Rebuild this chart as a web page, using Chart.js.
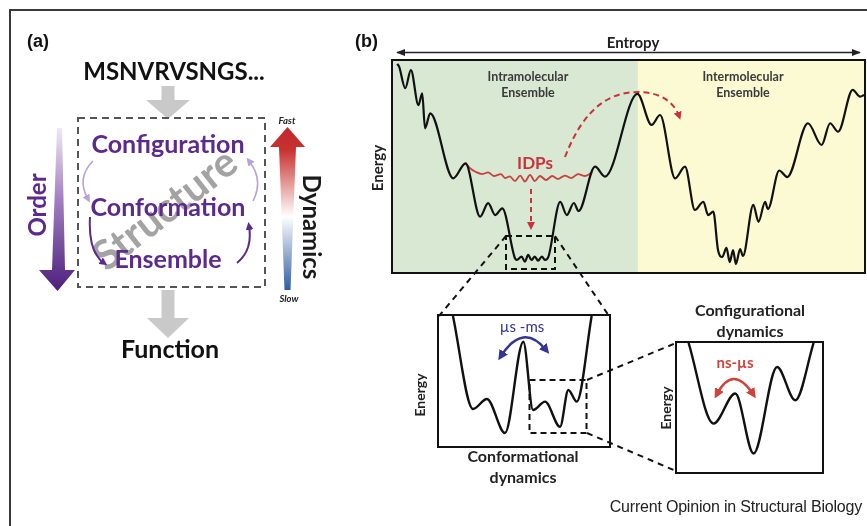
<!DOCTYPE html>
<html lang="en">
<head>
    <meta charset="UTF-8">
    <title>IDP energy landscape</title>
    <script src="https://cdn.jsdelivr.net/npm/chart.js"></script>
    <style>
        body { margin: 0; background: #fff; font-family: Lato, "Open Sans", sans-serif; }
        #page { position: relative; width: 867px; height: 526px; overflow: hidden; background: #fff; }
        #frame { position: absolute; left: 9px; top: 9px; width: 900px; height: 600px;
                 border-top: 2px solid #3a3a3a; border-left: 2px solid #3a3a3a; }
        .box { position: absolute; border: 2px solid #111; }
        .box canvas { display: block; }
        #overlay { position: absolute; left: 0; top: 0; pointer-events: none; }
        #credit { position: absolute; right: 5px; top: 498px; font-family: "Liberation Sans", Arial, sans-serif;
                  font-size: 16px; color: #222; letter-spacing: -0.2px; }
    </style>
</head>
<body>
<div id="page">
    <div id="frame"></div>

    <!-- main landscape -->
    <div class="box" style="left:391px; top:59px;">
        <canvas id="landscapeChart" width="471" height="211"></canvas>
    </div>
    <!-- conformational zoom -->
    <div class="box" style="left:437px; top:314px;">
        <canvas id="conformChart" width="170" height="130"></canvas>
    </div>
    <!-- configurational zoom -->
    <div class="box" style="left:675px; top:341px;">
        <canvas id="configChart" width="145" height="129"></canvas>
    </div>

    <svg id="overlay" width="867" height="526" font-family="Lato, 'Open Sans', sans-serif">
        <defs>
            <linearGradient id="orderGrad" x1="0" y1="0" x2="0" y2="1">
                <stop offset="0" stop-color="#efe8f5"/>
                <stop offset="0.45" stop-color="#a07cc0"/>
                <stop offset="1" stop-color="#4e1f7c"/>
            </linearGradient>
            <linearGradient id="dynGrad" x1="0" y1="0" x2="0" y2="1">
                <stop offset="0" stop-color="#c1272d"/>
                <stop offset="0.14" stop-color="#c8322f"/>
                <stop offset="0.55" stop-color="#ffffff"/>
                <stop offset="1" stop-color="#2f5ba6"/>
            </linearGradient>
            <marker id="headRed" viewBox="0 0 10 10" refX="5" refY="5" markerWidth="4" markerHeight="4" orient="auto-start-reverse">
                <path d="M0,0 L10,5 L0,10 z" fill="#c9313b"/>
            </marker>
            <marker id="headBlue" viewBox="0 0 10 10" refX="5" refY="5" markerWidth="4" markerHeight="4" orient="auto-start-reverse">
                <path d="M0,0 L10,5 L0,10 z" fill="#33339a"/>
            </marker>
            <marker id="headRed2" viewBox="0 0 10 10" refX="5" refY="5" markerWidth="4" markerHeight="4" orient="auto-start-reverse">
                <path d="M0,0 L10,5 L0,10 z" fill="#d0433a"/>
            </marker>
            <marker id="headBlack" viewBox="0 0 10 10" refX="9" refY="5" markerWidth="7" markerHeight="7" orient="auto-start-reverse">
                <path d="M0,1 L10,5 L0,9 z" fill="#222"/>
            </marker>
            <marker id="headLight" viewBox="0 0 10 10" refX="5" refY="5" markerWidth="5" markerHeight="5" orient="auto">
                <path d="M0,0 L10,5 L0,10 z" fill="#b9a3d6"/>
            </marker>
            <marker id="headPurple" viewBox="0 0 10 10" refX="5" refY="5" markerWidth="4" markerHeight="4" orient="auto">
                <path d="M0,0 L10,5 L0,10 z" fill="#5b2a8c"/>
            </marker>
        </defs>

        <!-- ===== panel (a) ===== -->
        <text x="27" y="47" font-family="'Liberation Sans', Arial" font-weight="700" font-size="18" fill="#111">(a)</text>
        <text x="174" y="80" text-anchor="middle" font-weight="700" font-size="24" fill="#111">MSNVRVSNGS...</text>
        <polygon points="161.5,86 174.5,86 174.5,100 190,100 168,119 146,100 161.5,100" fill="#c9c9c9"/>
        <polygon points="161.5,290 174.5,290 174.5,318 189,318 168,338 147,318 161.5,318" fill="#c9c9c9"/>
        <text x="170" y="358" text-anchor="middle" font-weight="700" font-size="25" fill="#111">Function</text>

        <rect x="78" y="118" width="187" height="169" fill="none" stroke="#555" stroke-width="2" stroke-dasharray="7,5"/>

        <text transform="translate(164,208) rotate(-38)" text-anchor="middle" dominant-baseline="central"
              font-weight="700" font-size="41" fill="#8c8c8c" fill-opacity="0.8">Structure</text>

        <text x="168" y="153" text-anchor="middle" font-weight="700" font-size="25" fill="#5b2a8c">Configuration</text>
        <text x="168" y="216" text-anchor="middle" font-weight="700" font-size="25" fill="#5b2a8c">Conformation</text>
        <text x="168" y="268" text-anchor="middle" font-weight="700" font-size="25" fill="#5b2a8c">Ensemble</text>

        <path d="M93,161 Q76,178 88,199" fill="none" stroke="#b9a3d6" stroke-width="1.6" marker-end="url(#headLight)"/>
        <path d="M253,201 Q264,180 249,161" fill="none" stroke="#b9a3d6" stroke-width="1.6" marker-end="url(#headLight)"/>
        <path d="M90,217 Q88,252 104,263" fill="none" stroke="#5b2a8c" stroke-width="2" marker-end="url(#headPurple)"/>
        <path d="M237,263 Q253,250 249,226" fill="none" stroke="#5b2a8c" stroke-width="2" marker-end="url(#headPurple)"/>

        <polygon points="57,128 62,128 65,270 75,270 57.5,291 39,270 52,270" fill="url(#orderGrad)"/>
        <text transform="translate(36,205) rotate(-90)" text-anchor="middle" dominant-baseline="central"
              font-weight="700" font-size="24" fill="#5b2a8c">Order</text>

        <polygon points="287.5,127 305,147 296,147 290.5,290 284.5,290 279,147 270,147" fill="url(#dynGrad)"/>
        <text x="287" y="124" text-anchor="middle" font-style="italic" font-weight="700" font-size="9.5" fill="#222">Fast</text>
        <text x="289" y="302" text-anchor="middle" font-style="italic" font-weight="700" font-size="9.5" fill="#222">Slow</text>
        <text transform="translate(312,227) rotate(90)" text-anchor="middle" dominant-baseline="central"
              font-weight="700" font-size="24" fill="#1a1a1a">Dynamics</text>

        <!-- ===== panel (b) ===== -->
        <text x="355" y="47" font-family="'Liberation Sans', Arial" font-weight="700" font-size="18" fill="#111">(b)</text>
        <line x1="397" y1="52.5" x2="860" y2="52.5" stroke="#222" stroke-width="1.3"
              marker-start="url(#headBlack)" marker-end="url(#headBlack)"/>
        <text x="633" y="48" text-anchor="middle" font-weight="700" font-size="15" fill="#222">Entropy</text>
        <text transform="translate(377,168) rotate(-90)" text-anchor="middle" dominant-baseline="central"
              font-weight="700" font-size="15" fill="#222">Energy</text>

        <text x="528" y="81" text-anchor="middle" font-weight="700" font-size="12.5" fill="#3a3a3a">Intramolecular</text>
        <text x="528" y="97" text-anchor="middle" font-weight="700" font-size="12.5" fill="#3a3a3a">Ensemble</text>
        <text x="743" y="81" text-anchor="middle" font-weight="700" font-size="12.5" fill="#3a3a3a">Intermolecular</text>
        <text x="743" y="97" text-anchor="middle" font-weight="700" font-size="12.5" fill="#3a3a3a">Ensemble</text>

        <text x="535" y="169" text-anchor="middle" font-weight="700" font-size="17" fill="#c9313b">IDPs</text>
        <line x1="531" y1="189" x2="531" y2="226" stroke="#c9313b" stroke-width="2" stroke-dasharray="5,4" marker-end="url(#headRed)"/>
        <path d="M565,157 C585,105 612,92 638,92 C660,92 674,102 679,116" fill="none" stroke="#c9313b"
              stroke-width="2" stroke-dasharray="6,4" marker-end="url(#headRed)"/>

        <rect x="506" y="236" width="49" height="33" fill="none" stroke="#111" stroke-width="2" stroke-dasharray="6,4"/>
        <line x1="506" y1="236" x2="439" y2="316" stroke="#111" stroke-width="2" stroke-dasharray="6,5"/>
        <line x1="555" y1="236" x2="609" y2="316" stroke="#111" stroke-width="2" stroke-dasharray="6,5"/>

        <rect x="529.5" y="380" width="57" height="53" fill="none" stroke="#111" stroke-width="2" stroke-dasharray="6,4"/>
        <line x1="587" y1="380" x2="676" y2="343" stroke="#111" stroke-width="2" stroke-dasharray="6,5"/>
        <line x1="587" y1="433" x2="676" y2="471" stroke="#111" stroke-width="2" stroke-dasharray="6,5"/>

        <text x="522" y="332" text-anchor="middle" font-size="15" fill="#33339a">µs -ms</text>
        <path d="M501,356 Q523,322 546,350" fill="none" stroke="#33339a" stroke-width="2.5"
              marker-start="url(#headBlue)" marker-end="url(#headBlue)"/>

        <text x="735" y="368" text-anchor="middle" font-weight="700" font-size="15" fill="#d0433a">ns-µs</text>
        <path d="M717,394 Q733,364 753,394" fill="none" stroke="#d0433a" stroke-width="2.5"
              marker-start="url(#headRed2)" marker-end="url(#headRed2)"/>

        <text transform="translate(419,395) rotate(-90)" text-anchor="middle" dominant-baseline="central"
              font-weight="700" font-size="14" fill="#222">Energy</text>
        <text transform="translate(665,408) rotate(-90)" text-anchor="middle" dominant-baseline="central"
              font-weight="700" font-size="14" fill="#222">Energy</text>

        <text x="523" y="462" text-anchor="middle" font-weight="700" font-size="16" fill="#222">Conformational</text>
        <text x="523" y="483" text-anchor="middle" font-weight="700" font-size="16" fill="#222">dynamics</text>
        <text x="750" y="316" text-anchor="middle" font-weight="700" font-size="16" fill="#222">Configurational</text>
        <text x="750" y="337" text-anchor="middle" font-weight="700" font-size="16" fill="#222">dynamics</text>
    </svg>

    <div id="credit">Current Opinion in Structural Biology</div>
</div>

<script>
    // Energy landscape (entropy 0-100, energy 0-100)
    const landscapeX = [0.9, 1.3, 2.6, 3.8, 5.4, 6.2, 6.8, 7.9, 12.8, 15.4, 18.5, 20.2, 21.7, 23.2, 25.9,
        26.3, 27.3, 28.0, 28.7, 29.4, 30.1, 30.8, 31.6, 32.3, 33.0,
        35.5, 36.9, 38.4, 39.4, 42.9, 45.0, 51.9, 54.9, 56.7, 59.9, 62.0, 64.1, 65.9, 66.9, 68.0,
        69.0, 69.9, 70.8, 71.5, 72.2, 72.8, 73.7, 74.3,
        76.5, 77.6, 79.0, 79.6, 82.0, 83.7, 88.1, 91.0, 92.8, 94.5, 97.6, 99.2, 100];
    const landscapeY = [98.6, 97.3, 87.1, 95.7, 79.1, 84.7, 68.1, 75.2, 44.4, 51.5, 26.2, 32.6, 27.0, 30.2, 6.5,
        5.7, 7.3, 4.9, 8.1, 5.7, 7.3, 5.4, 7.3, 5.7, 7.3,
        33.2, 27.0, 32.7, 28.9, 49.9, 45.2, 84.4, 69.7, 74.4, 44.4, 49.9, 29.4, 33.3, 27.0, 28.6,
        10.4, 7.1, 11.4, 4.7, 10.4, 3.8, 10.9, 7.6,
        31.8, 23.8, 33.2, 29.9, 48.1, 45.0, 70.5, 60.2, 70.5, 66.5, 86.3, 83.1, 83.9];

    // IDP (red) wavy plateau
    const idpX = [15.4, 16.3, 17.6, 18.9, 20.2, 21.4, 22.9, 23.8, 24.8, 25.9, 27.0, 28.0, 29.1, 30.1, 31.2,
        32.5, 33.8, 35.0, 36.5, 37.8, 39.3, 40.8, 42.3];
    const idpY = [51.5, 49.3, 47.4, 46.4, 47.2, 45.5, 46.4, 44.5, 45.3, 43.1, 45.7, 42.9, 46.0, 43.1, 45.5,
        43.6, 45.5, 44.1, 45.7, 44.5, 46.4, 45.5, 47.2];

    // Conformational dynamics inset
    const conformX = [8.2, 20.0, 28.2, 38.8, 49.6, 55.3, 62.4, 71.2, 76.1, 81.0, 89.8];
    const conformY = [100, 28.5, 36.2, 10.0, 80.2, 27.7, 34.1, 14.8, 43.1, 34.1, 100];

    // Configurational dynamics inset
    const configX = [8.0, 25.2, 40.2, 52.8, 69.0, 81.6, 94.2];
    const configY = [100, 37.5, 60.8, 14.3, 81.4, 55.6, 100];

    const ensembleSplit = 52.0; // intra / inter boundary on the entropy axis

    const toPoints = (xs, ys) => xs.map((x, i) => ({ x: x, y: ys[i] }));

    const ensembleBackground = {
        id: 'ensembleBackground',
        beforeDraw(chart) {
            const { ctx, chartArea, scales } = chart;
            const split = scales.x.getPixelForValue(ensembleSplit);
            ctx.save();
            ctx.fillStyle = '#d9e8d3';
            ctx.fillRect(chartArea.left, chartArea.top, split - chartArea.left, chartArea.height);
            ctx.fillStyle = '#fcfad3';
            ctx.fillRect(split, chartArea.top, chartArea.right - split, chartArea.height);
            ctx.restore();
        }
    };

    function baseOptions() {
        return {
            responsive: false,
            animation: false,
            events: [],
            layout: { padding: 0 },
            plugins: { legend: { display: false }, tooltip: { enabled: false } },
            elements: { point: { radius: 0 } },
            scales: {
                x: { type: 'linear', min: 0, max: 100, display: false },
                y: { type: 'linear', min: 0, max: 100, display: false }
            }
        };
    }

    function lineSet(points, color, width) {
        return {
            data: points,
            borderColor: color,
            borderWidth: width,
            cubicInterpolationMode: 'monotone',
            fill: false
        };
    }

    new Chart(document.getElementById('landscapeChart'), {
        type: 'line',
        data: {
            datasets: [
                lineSet(toPoints(landscapeX, landscapeY), '#111', 2.2),
                lineSet(toPoints(idpX, idpY), '#c9413f', 1.8)
            ]
        },
        options: baseOptions(),
        plugins: [ensembleBackground]
    });

    new Chart(document.getElementById('conformChart'), {
        type: 'line',
        data: { datasets: [lineSet(toPoints(conformX, conformY), '#111', 2.4)] },
        options: baseOptions()
    });

    new Chart(document.getElementById('configChart'), {
        type: 'line',
        data: { datasets: [lineSet(toPoints(configX, configY), '#111', 2.4)] },
        options: baseOptions()
    });
</script>
</body>
</html>
